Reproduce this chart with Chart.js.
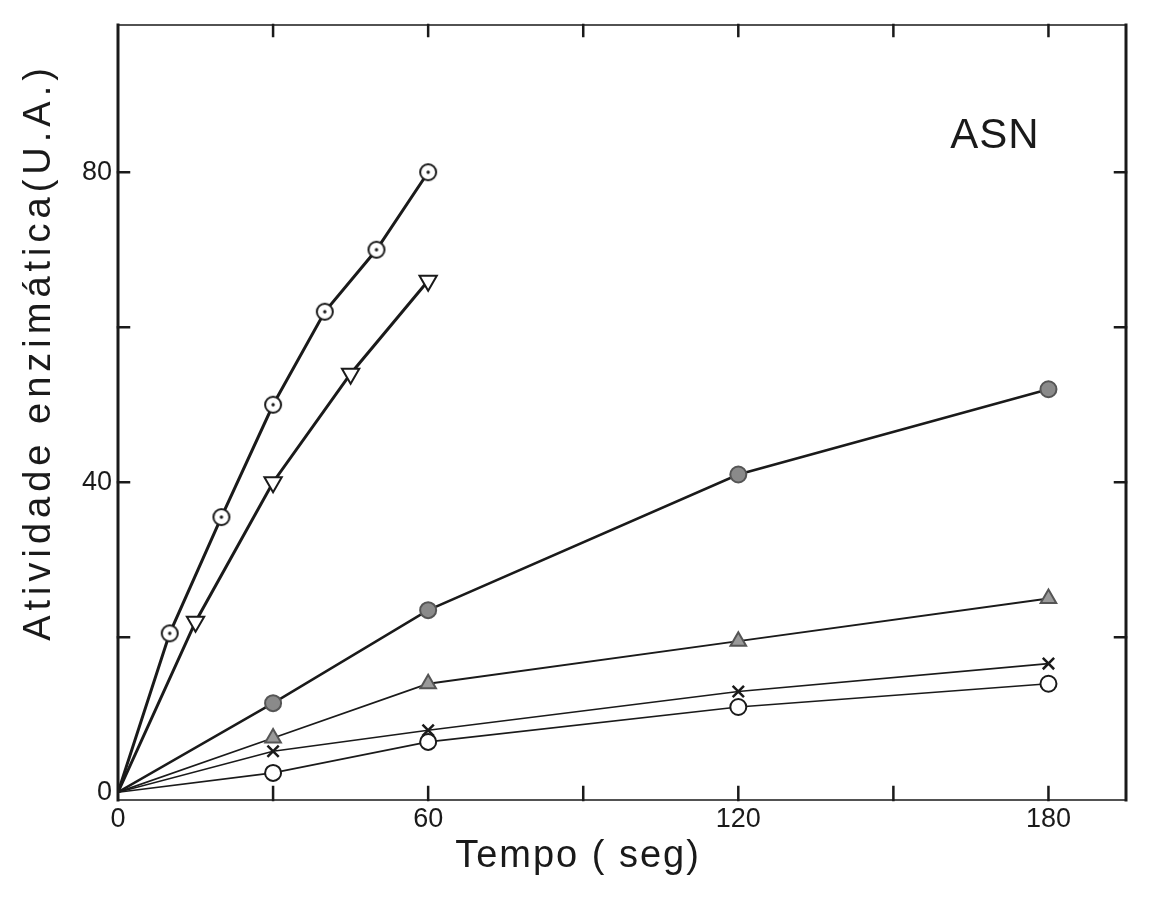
<!DOCTYPE html>
<html>
<head>
<meta charset="utf-8">
<script src="https://cdn.jsdelivr.net/npm/chart.js@4.4.0/dist/chart.umd.min.js"></script>
<style>
  html, body { margin: 0; padding: 0; background: #fff; }
  #wrap { width: 1152px; height: 899px; }
</style>
</head>
<body>
<div id="wrap"><canvas id="asnChart"></canvas></div>
<script>
// tempo (seg) x atividade enzimatica (U.A.)
const tempoA = [0, 10, 20, 30, 40, 50, 60];
const ativA = [0, 20.5, 35.5, 50, 62, 70, 80];
const tempoB = [0, 15, 30, 45, 60];
const ativB = [0, 22, 40, 54, 66];
const tempoC = [0, 30, 60, 120, 180];
const ativC = [0, 11.5, 23.5, 41, 52];
const ativD = [0, 7, 14, 19.5, 25];
const ativE = [0, 5.3, 8, 13, 16.6];
const ativF = [0, 2.5, 6.5, 11, 14];
const xTicks = [0, 30, 60, 90, 120, 150, 180];
const yTicks = [0, 20, 40, 60, 80];
const xLabels = [0, 60, 120, 180];
const yLabels = [0, 40, 80];

const ink = "#1a1a1a";

function pares(xs, ys) {
  return xs.map((x, i) => ({ x: x, y: ys[i] }));
}

// circulo com ponto no meio
function dotCircle(r) {
  const c = document.createElement("canvas");
  const s = 2 * r + 6;
  c.width = s;
  c.height = s;
  const g = c.getContext("2d");
  g.lineWidth = 2;
  g.strokeStyle = ink;
  g.fillStyle = "#fff";
  g.beginPath();
  g.arc(s / 2, s / 2, r, 0, Math.PI * 2);
  g.fill();
  g.stroke();
  g.fillStyle = ink;
  g.beginPath();
  g.arc(s / 2, s / 2, 1.7, 0, Math.PI * 2);
  g.fill();
  return c;
}
const dotImg = dotCircle(8);

// a origem nao tem marcador
const semOrigem = (estilo) => (ctx) => (ctx.dataIndex === 0 ? false : estilo);

function serie(data, opts) {
  return Object.assign(
    {
      data: data,
      borderColor: ink,
      backgroundColor: "#fff",
      pointBorderColor: ink,
      pointBorderWidth: 2,
      pointRadius: 8,
      tension: 0,
      fill: false,
    },
    opts
  );
}

const datasets = [
  serie(pares(tempoA, ativA), { borderWidth: 3, pointStyle: semOrigem(dotImg) }),
  serie(pares(tempoB, ativB), {
    borderWidth: 3,
    pointStyle: semOrigem("triangle"),
    pointRotation: 180,
    pointRadius: 10,
    pointBackgroundColor: "#fff",
  }),
  serie(pares(tempoC, ativC), {
    borderWidth: 2.5,
    pointStyle: semOrigem("circle"),
    pointBackgroundColor: "#8a8a8a",
    pointBorderColor: "#555",
  }),
  serie(pares(tempoC, ativD), {
    borderWidth: 1.8,
    pointStyle: semOrigem("triangle"),
    pointRadius: 9,
    pointBackgroundColor: "#9a9a9a",
    pointBorderColor: "#555",
  }),
  serie(pares(tempoC, ativE), {
    borderWidth: 1.6,
    pointStyle: semOrigem("crossRot"),
    pointRadius: 8,
    pointBorderWidth: 2.5,
  }),
  serie(pares(tempoC, ativF), {
    borderWidth: 1.6,
    pointStyle: semOrigem("circle"),
    pointRadius: 8,
    pointBackgroundColor: "#fff",
  }),
];

// moldura e tracos internos dos eixos
const moldura = {
  id: "moldura",
  afterDatasetsDraw(chart) {
    const { ctx, chartArea: a, scales } = chart;
    ctx.save();
    ctx.strokeStyle = ink;
    ctx.lineCap = "square";
    ctx.lineWidth = 3;
    ctx.beginPath();
    ctx.moveTo(a.left, a.top);
    ctx.lineTo(a.left, a.bottom);
    ctx.moveTo(a.right, a.top);
    ctx.lineTo(a.right, a.bottom);
    ctx.stroke();
    ctx.lineWidth = 1.6;
    ctx.beginPath();
    ctx.moveTo(a.left, a.top);
    ctx.lineTo(a.right, a.top);
    ctx.moveTo(a.left, a.bottom);
    ctx.lineTo(a.right, a.bottom);
    ctx.stroke();

    ctx.lineWidth = 2.5;
    ctx.beginPath();
    scales.x.ticks.forEach((t) => {
      if (t.value <= 0) return;
      const px = scales.x.getPixelForValue(t.value);
      ctx.moveTo(px, a.bottom);
      ctx.lineTo(px, a.bottom - 13);
      ctx.moveTo(px, a.top);
      ctx.lineTo(px, a.top + 11);
    });
    scales.y.ticks.forEach((t) => {
      if (t.value <= 0) return;
      const py = scales.y.getPixelForValue(t.value);
      ctx.moveTo(a.left, py);
      ctx.lineTo(a.left + 11, py);
      ctx.moveTo(a.right, py);
      ctx.lineTo(a.right - 11, py);
    });
    ctx.stroke();
    ctx.restore();
  },
  afterDraw(chart) {
    const { ctx, chartArea: a } = chart;
    ctx.save();
    ctx.fillStyle = ink;
    ctx.textAlign = "center";
    ctx.textBaseline = "middle";

    ctx.font = '38px "Liberation Sans"';
    ctx.letterSpacing = "2px";
    ctx.fillText("Tempo ( seg)", a.left + 460, 857);

    ctx.font = '42px "Liberation Sans"';
    ctx.letterSpacing = "1px";
    ctx.fillText("ASN", a.left + 877, 136);

    ctx.translate(40, 352);
    ctx.rotate(-Math.PI / 2);
    ctx.font = '38px "Liberation Sans"';
    ctx.letterSpacing = "5px";
    ctx.fillText("Atividade enzimática(U.A.)", 0, 0);
    ctx.restore();
  },
};

const tickFont = { family: "Liberation Sans", size: 27 };

new Chart(document.getElementById("asnChart"), {
  type: "line",
  data: { datasets: datasets },
  options: {
    responsive: true,
    maintainAspectRatio: false,
    animation: false,
    layout: { padding: { top: 25, right: 26, left: 0, bottom: 0 } },
    plugins: {
      legend: { display: false },
      tooltip: { enabled: false },
    },
    scales: {
      x: {
        type: "linear",
        min: 0,
        max: 195,
        border: { display: false },
        grid: { display: false, drawTicks: false },
        afterBuildTicks: (s) => {
          s.ticks = xTicks.map((v) => ({ value: v }));
        },
        ticks: {
          autoSkip: false,
          maxRotation: 0,
          padding: 3,
          color: ink,
          font: tickFont,
          callback: (v) => (xLabels.includes(v) ? String(v) : ""),
        },
        afterFit: (s) => {
          s.height = 99;
        },
      },
      y: {
        type: "linear",
        min: -1,
        max: 99,
        border: { display: false },
        grid: { display: false, drawTicks: false },
        afterBuildTicks: (s) => {
          s.ticks = yTicks.map((v) => ({ value: v }));
        },
        ticks: {
          autoSkip: false,
          padding: 6,
          color: ink,
          font: tickFont,
          callback: (v) => (yLabels.includes(v) ? String(v) : ""),
        },
        afterFit: (s) => {
          s.width = 118;
        },
      },
    },
  },
  plugins: [moldura],
});
</script>
</body>
</html>
